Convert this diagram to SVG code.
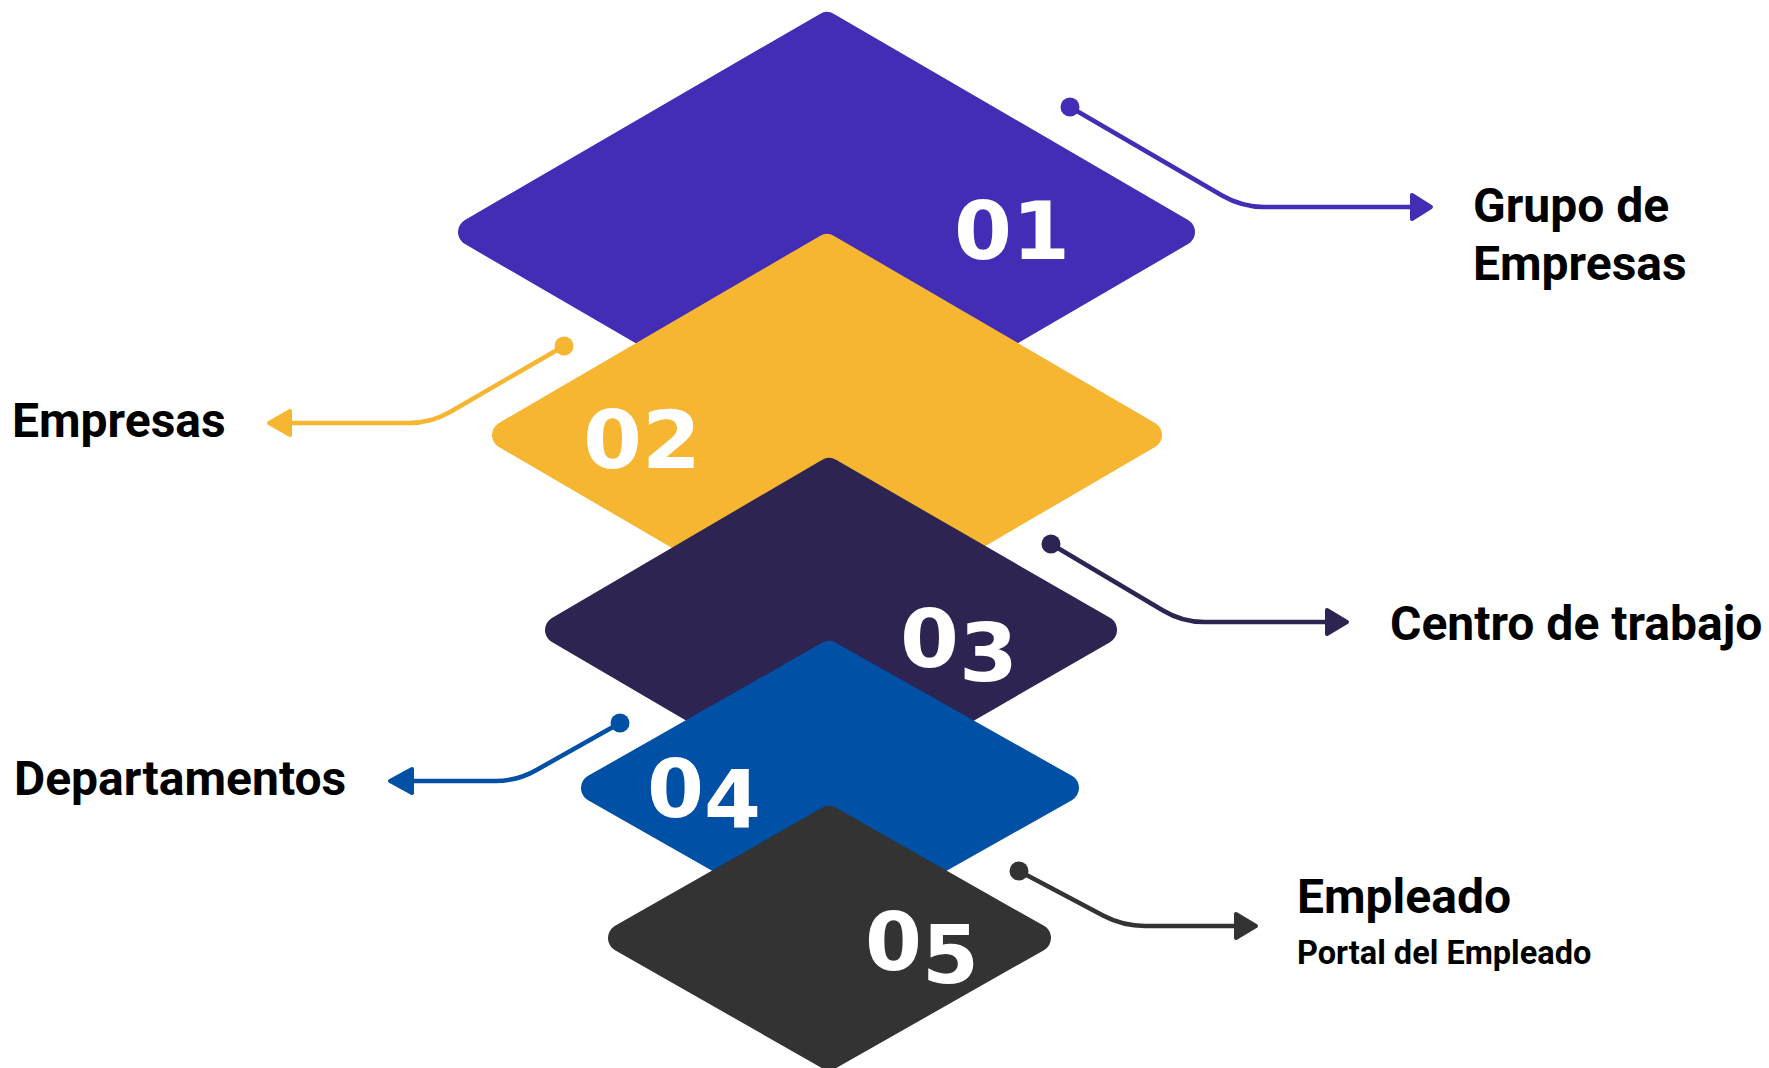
<svg xmlns="http://www.w3.org/2000/svg" width="1769" height="1068" viewBox="0 0 1769 1068">
<style>
.lbl{font-family:Roboto,"Liberation Sans",sans-serif;font-weight:700;font-size:48px;fill:#000}
.sub{font-size:32.5px}
.num{font-family:"DejaVu Sans",sans-serif;font-weight:700;font-size:80px;fill:#fff}
.dia{stroke-width:28;stroke-linejoin:round}
.con{fill:none;stroke-width:4.5;stroke-linecap:round}
.head{stroke-width:4;stroke-linejoin:round}
</style>
<rect width="1769" height="1068" fill="#fff"/>
<g id="node-01">
<polygon class="dia" fill="#432DB5" stroke="#432DB5" points="827,26 1181,232 827,438 472,232"/>
<text class="num" x="954" y="259" textLength="116" lengthAdjust="spacingAndGlyphs">01</text>
</g>
<g id="node-02">
<polygon class="dia" fill="#F6B631" stroke="#F6B631" points="827,248 1148,435 827,622 506,435"/>
<text class="num" x="583" y="468" textLength="118" lengthAdjust="spacingAndGlyphs">02</text>
</g>
<g id="node-03">
<polygon class="dia" fill="#2D2452" stroke="#2D2452" points="829,472 1103,630 829,788 559,630"/>
<text class="num" x="900" y="667" textLength="118" lengthAdjust="spacingAndGlyphs">0<tspan dy="14">3</tspan></text>
</g>
<g id="node-04">
<polygon class="dia" fill="#0050A6" stroke="#0050A6" points="829,655 1065,788 829,921 595,788"/>
<text class="num" x="647" y="817" textLength="114" lengthAdjust="spacingAndGlyphs">0<tspan dy="11">4</tspan></text>
</g>
<g id="node-05">
<polygon class="dia" fill="#333333" stroke="#333333" points="829,820 1037,938 829,1056 622,938"/>
<text class="num" x="865" y="970" textLength="114" lengthAdjust="spacingAndGlyphs">0<tspan dy="13">5</tspan></text>
</g>
<g id="connectors">
<circle cx="1070" cy="107" r="9.5" fill="#432DB5"/>
<path class="con" stroke="#432DB5" d="M1070 107 L1222 195.5 Q1242 207 1264 207 L1414 207"/>
<polygon class="head" fill="#432DB5" stroke="#432DB5" points="1412,195 1431,207 1412,219"/>
<circle cx="564" cy="346" r="9.5" fill="#F6B631"/>
<path class="con" stroke="#F6B631" d="M564 346 L450 412 Q431 423 409 423 L288 423"/>
<polygon class="head" fill="#F6B631" stroke="#F6B631" points="290,411 269,423 290,435"/>
<circle cx="1051" cy="544" r="9.5" fill="#2D2452"/>
<path class="con" stroke="#2D2452" d="M1051 544 L1163 610.5 Q1182 622 1204 622 L1329 622"/>
<polygon class="head" fill="#2D2452" stroke="#2D2452" points="1327,610 1347,622 1327,634"/>
<circle cx="620" cy="723" r="9.5" fill="#0050A6"/>
<path class="con" stroke="#0050A6" d="M620 723 L536.5 770 Q517.5 781 495.5 781 L410 781"/>
<polygon class="head" fill="#0050A6" stroke="#0050A6" points="412,769 390,781 412,793"/>
<circle cx="1019" cy="871" r="9.5" fill="#333333"/>
<path class="con" stroke="#333333" d="M1019 871 L1103.5 915.8 Q1123 926 1145 926 L1238 926"/>
<polygon class="head" fill="#333333" stroke="#333333" points="1236,914 1256,926 1236,938"/>
</g>
<g id="label-01">
<text class="lbl" x="1473" y="222">Grupo de</text>
<text class="lbl" x="1473" y="280">Empresas</text>
</g>
<g id="label-02">
<text class="lbl" x="12" y="437">Empresas</text>
</g>
<g id="label-03">
<text class="lbl" x="1390" y="640">Centro de trabajo</text>
</g>
<g id="label-04">
<text class="lbl" x="14" y="795">Departamentos</text>
</g>
<g id="label-05">
<text class="lbl" x="1297" y="913">Empleado</text>
<text class="lbl sub" x="1297" y="964">Portal del Empleado</text>
</g>
</svg>
